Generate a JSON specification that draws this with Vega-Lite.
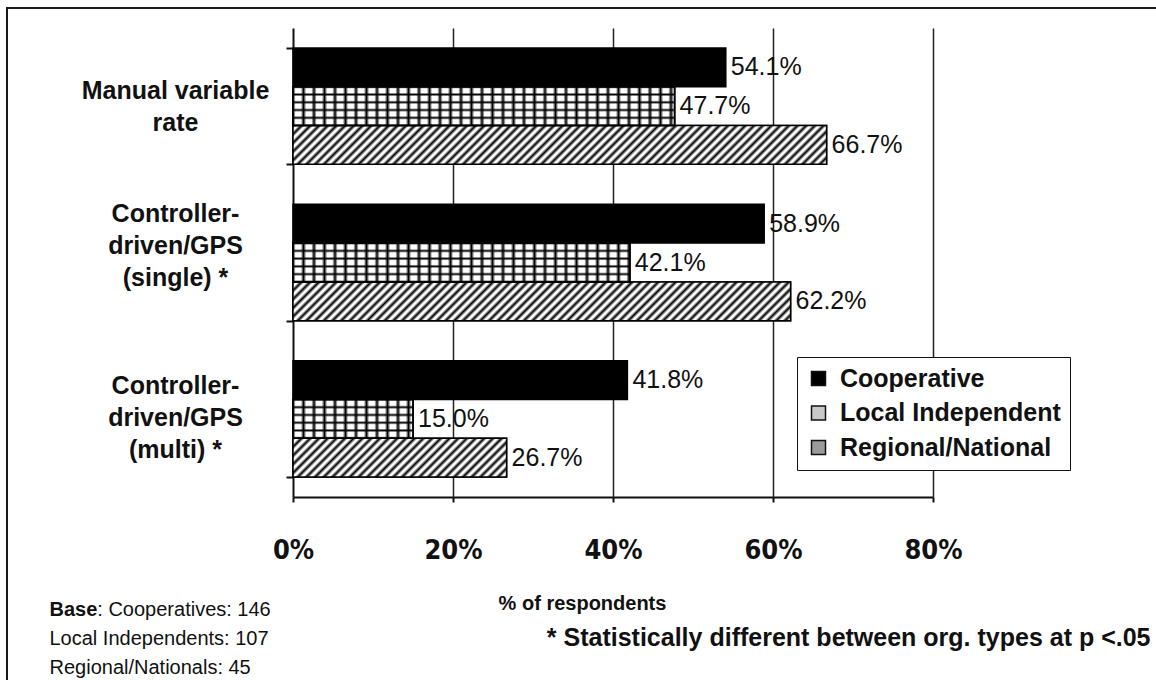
{
  "$schema": "https://vega.github.io/schema/vega-lite/v6.json",
  "width": 1151,
  "height": 676,
  "autosize": {"type": "none"},
  "padding": {"left": 7, "top": 8, "right": -2, "bottom": -4},
  "background": "white",
  "config": {
    "view": {"stroke": "#1a1a1a", "strokeWidth": 2},
    "font": "Liberation Sans",
    "axis": {"titleColor": "#111", "labelColor": "#111", "titleFont": "Liberation Sans", "labelFont": "Liberation Sans"}
  },
  "params": [
    {"name": "dg", "value": [
      {"offset":0,"color":"#000"},{"offset":0.006,"color":"#fff"},{"offset":0.009,"color":"#fff"},
      {"offset":0.015,"color":"#000"},{"offset":0.021,"color":"#fff"},{"offset":0.024,"color":"#fff"},
      {"offset":0.03,"color":"#000"},{"offset":0.036,"color":"#fff"},{"offset":0.039,"color":"#fff"},
      {"offset":0.045,"color":"#000"},{"offset":0.051,"color":"#fff"},{"offset":0.054,"color":"#fff"},
      {"offset":0.06,"color":"#000"},{"offset":0.066,"color":"#fff"},{"offset":0.069,"color":"#fff"},
      {"offset":0.075,"color":"#000"},{"offset":0.081,"color":"#fff"},{"offset":0.084,"color":"#fff"},
      {"offset":0.09,"color":"#000"},{"offset":0.096,"color":"#fff"},{"offset":0.099,"color":"#fff"},
      {"offset":0.105,"color":"#000"},{"offset":0.111,"color":"#fff"},{"offset":0.114,"color":"#fff"},
      {"offset":0.12,"color":"#000"},{"offset":0.126,"color":"#fff"},{"offset":0.129,"color":"#fff"},
      {"offset":0.135,"color":"#000"},{"offset":0.141,"color":"#fff"},{"offset":0.144,"color":"#fff"},
      {"offset":0.15,"color":"#000"},{"offset":0.156,"color":"#fff"},{"offset":0.159,"color":"#fff"},
      {"offset":0.165,"color":"#000"},{"offset":0.171,"color":"#fff"},{"offset":0.174,"color":"#fff"},
      {"offset":0.18,"color":"#000"},{"offset":0.186,"color":"#fff"},{"offset":0.189,"color":"#fff"},
      {"offset":0.195,"color":"#000"},{"offset":0.201,"color":"#fff"},{"offset":0.204,"color":"#fff"},
      {"offset":0.21,"color":"#000"},{"offset":0.216,"color":"#fff"},{"offset":0.219,"color":"#fff"},
      {"offset":0.225,"color":"#000"},{"offset":0.231,"color":"#fff"},{"offset":0.234,"color":"#fff"},
      {"offset":0.24,"color":"#000"},{"offset":0.246,"color":"#fff"},{"offset":0.249,"color":"#fff"},
      {"offset":0.255,"color":"#000"},{"offset":0.261,"color":"#fff"},{"offset":0.264,"color":"#fff"},
      {"offset":0.27,"color":"#000"},{"offset":0.276,"color":"#fff"},{"offset":0.279,"color":"#fff"},
      {"offset":0.285,"color":"#000"},{"offset":0.291,"color":"#fff"},{"offset":0.294,"color":"#fff"},
      {"offset":0.3,"color":"#000"},{"offset":0.306,"color":"#fff"},{"offset":0.309,"color":"#fff"},
      {"offset":0.315,"color":"#000"},{"offset":0.321,"color":"#fff"},{"offset":0.324,"color":"#fff"},
      {"offset":0.33,"color":"#000"},{"offset":0.336,"color":"#fff"},{"offset":0.339,"color":"#fff"},
      {"offset":0.345,"color":"#000"},{"offset":0.351,"color":"#fff"},{"offset":0.354,"color":"#fff"},
      {"offset":0.36,"color":"#000"},{"offset":0.366,"color":"#fff"},{"offset":0.369,"color":"#fff"},
      {"offset":0.375,"color":"#000"},{"offset":0.381,"color":"#fff"},{"offset":0.384,"color":"#fff"},
      {"offset":0.39,"color":"#000"},{"offset":0.396,"color":"#fff"},{"offset":0.399,"color":"#fff"},
      {"offset":0.405,"color":"#000"},{"offset":0.411,"color":"#fff"},{"offset":0.414,"color":"#fff"},
      {"offset":0.42,"color":"#000"},{"offset":0.426,"color":"#fff"},{"offset":0.429,"color":"#fff"},
      {"offset":0.435,"color":"#000"},{"offset":0.441,"color":"#fff"},{"offset":0.444,"color":"#fff"},
      {"offset":0.45,"color":"#000"},{"offset":0.456,"color":"#fff"},{"offset":0.459,"color":"#fff"},
      {"offset":0.465,"color":"#000"},{"offset":0.471,"color":"#fff"},{"offset":0.474,"color":"#fff"},
      {"offset":0.48,"color":"#000"},{"offset":0.486,"color":"#fff"},{"offset":0.489,"color":"#fff"},
      {"offset":0.495,"color":"#000"},{"offset":0.501,"color":"#fff"},{"offset":0.504,"color":"#fff"},
      {"offset":0.51,"color":"#000"},{"offset":0.516,"color":"#fff"},{"offset":0.519,"color":"#fff"},
      {"offset":0.525,"color":"#000"},{"offset":0.531,"color":"#fff"},{"offset":0.534,"color":"#fff"},
      {"offset":0.54,"color":"#000"},{"offset":0.546,"color":"#fff"},{"offset":0.549,"color":"#fff"},
      {"offset":0.555,"color":"#000"},{"offset":0.561,"color":"#fff"},{"offset":0.564,"color":"#fff"},
      {"offset":0.57,"color":"#000"},{"offset":0.576,"color":"#fff"},{"offset":0.579,"color":"#fff"},
      {"offset":0.585,"color":"#000"},{"offset":0.591,"color":"#fff"},{"offset":0.594,"color":"#fff"},
      {"offset":0.6,"color":"#000"},{"offset":0.606,"color":"#fff"},{"offset":0.609,"color":"#fff"},
      {"offset":0.615,"color":"#000"},{"offset":0.621,"color":"#fff"},{"offset":0.624,"color":"#fff"},
      {"offset":0.63,"color":"#000"},{"offset":0.636,"color":"#fff"},{"offset":0.639,"color":"#fff"},
      {"offset":0.645,"color":"#000"},{"offset":0.651,"color":"#fff"},{"offset":0.654,"color":"#fff"},
      {"offset":0.66,"color":"#000"},{"offset":0.666,"color":"#fff"},{"offset":0.669,"color":"#fff"},
      {"offset":0.675,"color":"#000"},{"offset":0.681,"color":"#fff"},{"offset":0.684,"color":"#fff"},
      {"offset":0.69,"color":"#000"},{"offset":0.696,"color":"#fff"},{"offset":0.699,"color":"#fff"},
      {"offset":0.705,"color":"#000"},{"offset":0.711,"color":"#fff"},{"offset":0.714,"color":"#fff"},
      {"offset":0.72,"color":"#000"},{"offset":0.726,"color":"#fff"},{"offset":0.729,"color":"#fff"},
      {"offset":0.735,"color":"#000"},{"offset":0.741,"color":"#fff"},{"offset":0.744,"color":"#fff"},
      {"offset":0.75,"color":"#000"},{"offset":0.756,"color":"#fff"},{"offset":0.759,"color":"#fff"},
      {"offset":0.765,"color":"#000"},{"offset":0.771,"color":"#fff"},{"offset":0.774,"color":"#fff"},
      {"offset":0.78,"color":"#000"},{"offset":0.786,"color":"#fff"},{"offset":0.789,"color":"#fff"},
      {"offset":0.795,"color":"#000"},{"offset":0.801,"color":"#fff"},{"offset":0.804,"color":"#fff"},
      {"offset":0.81,"color":"#000"},{"offset":0.816,"color":"#fff"},{"offset":0.819,"color":"#fff"},
      {"offset":0.825,"color":"#000"},{"offset":0.831,"color":"#fff"},{"offset":0.834,"color":"#fff"},
      {"offset":0.84,"color":"#000"},{"offset":0.846,"color":"#fff"},{"offset":0.849,"color":"#fff"},
      {"offset":0.855,"color":"#000"},{"offset":0.861,"color":"#fff"},{"offset":0.864,"color":"#fff"},
      {"offset":0.87,"color":"#000"},{"offset":0.876,"color":"#fff"},{"offset":0.879,"color":"#fff"},
      {"offset":0.885,"color":"#000"},{"offset":0.891,"color":"#fff"},{"offset":0.894,"color":"#fff"},
      {"offset":0.9,"color":"#000"},{"offset":0.906,"color":"#fff"},{"offset":0.909,"color":"#fff"},
      {"offset":0.915,"color":"#000"},{"offset":0.921,"color":"#fff"},{"offset":0.924,"color":"#fff"},
      {"offset":0.93,"color":"#000"},{"offset":0.936,"color":"#fff"},{"offset":0.939,"color":"#fff"},
      {"offset":0.945,"color":"#000"},{"offset":0.951,"color":"#fff"},{"offset":0.954,"color":"#fff"},
      {"offset":0.96,"color":"#000"},{"offset":0.966,"color":"#fff"},{"offset":0.969,"color":"#fff"},
      {"offset":0.975,"color":"#000"},{"offset":0.981,"color":"#fff"},{"offset":0.984,"color":"#fff"},
      {"offset":0.99,"color":"#000"},{"offset":0.996,"color":"#fff"},{"offset":0.999,"color":"#fff"}
    ]},
    {"name": "vl", "value": [
      {"offset":0,"color":"#000"},{"offset":0.005,"color":"#fff"},{"offset":0.015,"color":"#fff"},
      {"offset":0.02,"color":"#000"},{"offset":0.025,"color":"#fff"},{"offset":0.035,"color":"#fff"},
      {"offset":0.04,"color":"#000"},{"offset":0.045,"color":"#fff"},{"offset":0.055,"color":"#fff"},
      {"offset":0.06,"color":"#000"},{"offset":0.065,"color":"#fff"},{"offset":0.075,"color":"#fff"},
      {"offset":0.08,"color":"#000"},{"offset":0.085,"color":"#fff"},{"offset":0.095,"color":"#fff"},
      {"offset":0.1,"color":"#000"},{"offset":0.105,"color":"#fff"},{"offset":0.115,"color":"#fff"},
      {"offset":0.12,"color":"#000"},{"offset":0.125,"color":"#fff"},{"offset":0.135,"color":"#fff"},
      {"offset":0.14,"color":"#000"},{"offset":0.145,"color":"#fff"},{"offset":0.155,"color":"#fff"},
      {"offset":0.16,"color":"#000"},{"offset":0.165,"color":"#fff"},{"offset":0.175,"color":"#fff"},
      {"offset":0.18,"color":"#000"},{"offset":0.185,"color":"#fff"},{"offset":0.195,"color":"#fff"},
      {"offset":0.2,"color":"#000"},{"offset":0.205,"color":"#fff"},{"offset":0.215,"color":"#fff"},
      {"offset":0.22,"color":"#000"},{"offset":0.225,"color":"#fff"},{"offset":0.235,"color":"#fff"},
      {"offset":0.24,"color":"#000"},{"offset":0.245,"color":"#fff"},{"offset":0.255,"color":"#fff"},
      {"offset":0.26,"color":"#000"},{"offset":0.265,"color":"#fff"},{"offset":0.275,"color":"#fff"},
      {"offset":0.28,"color":"#000"},{"offset":0.285,"color":"#fff"},{"offset":0.295,"color":"#fff"},
      {"offset":0.3,"color":"#000"},{"offset":0.305,"color":"#fff"},{"offset":0.315,"color":"#fff"},
      {"offset":0.32,"color":"#000"},{"offset":0.325,"color":"#fff"},{"offset":0.335,"color":"#fff"},
      {"offset":0.34,"color":"#000"},{"offset":0.345,"color":"#fff"},{"offset":0.355,"color":"#fff"},
      {"offset":0.36,"color":"#000"},{"offset":0.365,"color":"#fff"},{"offset":0.375,"color":"#fff"},
      {"offset":0.38,"color":"#000"},{"offset":0.385,"color":"#fff"},{"offset":0.395,"color":"#fff"},
      {"offset":0.4,"color":"#000"},{"offset":0.405,"color":"#fff"},{"offset":0.415,"color":"#fff"},
      {"offset":0.42,"color":"#000"},{"offset":0.425,"color":"#fff"},{"offset":0.435,"color":"#fff"},
      {"offset":0.44,"color":"#000"},{"offset":0.445,"color":"#fff"},{"offset":0.455,"color":"#fff"},
      {"offset":0.46,"color":"#000"},{"offset":0.465,"color":"#fff"},{"offset":0.475,"color":"#fff"},
      {"offset":0.48,"color":"#000"},{"offset":0.485,"color":"#fff"},{"offset":0.495,"color":"#fff"},
      {"offset":0.5,"color":"#000"},{"offset":0.505,"color":"#fff"},{"offset":0.515,"color":"#fff"},
      {"offset":0.52,"color":"#000"},{"offset":0.525,"color":"#fff"},{"offset":0.535,"color":"#fff"},
      {"offset":0.54,"color":"#000"},{"offset":0.545,"color":"#fff"},{"offset":0.555,"color":"#fff"},
      {"offset":0.56,"color":"#000"},{"offset":0.565,"color":"#fff"},{"offset":0.575,"color":"#fff"},
      {"offset":0.58,"color":"#000"},{"offset":0.585,"color":"#fff"},{"offset":0.595,"color":"#fff"},
      {"offset":0.6,"color":"#000"},{"offset":0.605,"color":"#fff"},{"offset":0.615,"color":"#fff"},
      {"offset":0.62,"color":"#000"},{"offset":0.625,"color":"#fff"},{"offset":0.635,"color":"#fff"},
      {"offset":0.64,"color":"#000"},{"offset":0.645,"color":"#fff"},{"offset":0.655,"color":"#fff"},
      {"offset":0.66,"color":"#000"},{"offset":0.665,"color":"#fff"},{"offset":0.675,"color":"#fff"},
      {"offset":0.68,"color":"#000"},{"offset":0.685,"color":"#fff"},{"offset":0.695,"color":"#fff"},
      {"offset":0.7,"color":"#000"},{"offset":0.705,"color":"#fff"},{"offset":0.715,"color":"#fff"},
      {"offset":0.72,"color":"#000"},{"offset":0.725,"color":"#fff"},{"offset":0.735,"color":"#fff"}
    ]},
    {"name": "hl", "value": [
      {"offset":0,"color":"#000"},{"offset":0.05,"color":"rgba(0,0,0,0)"},{"offset":0.15,"color":"rgba(0,0,0,0)"},
      {"offset":0.2,"color":"#000"},{"offset":0.25,"color":"rgba(0,0,0,0)"},{"offset":0.35,"color":"rgba(0,0,0,0)"},
      {"offset":0.4,"color":"#000"},{"offset":0.45,"color":"rgba(0,0,0,0)"},{"offset":0.55,"color":"rgba(0,0,0,0)"},
      {"offset":0.6,"color":"#000"},{"offset":0.65,"color":"rgba(0,0,0,0)"},{"offset":0.75,"color":"rgba(0,0,0,0)"},
      {"offset":0.8,"color":"#000"},{"offset":0.85,"color":"rgba(0,0,0,0)"},{"offset":0.95,"color":"rgba(0,0,0,0)"},
      {"offset":1,"color":"#000"}
    ]}
  ],
  "data": {"values": [
    {"category": "Manual variable rate", "type": "Cooperative", "v": 0.541},
    {"category": "Manual variable rate", "type": "Local Independent", "v": 0.477},
    {"category": "Manual variable rate", "type": "Regional/National", "v": 0.667},
    {"category": "Controller-driven/GPS (single) *", "type": "Cooperative", "v": 0.589},
    {"category": "Controller-driven/GPS (single) *", "type": "Local Independent", "v": 0.421},
    {"category": "Controller-driven/GPS (single) *", "type": "Regional/National", "v": 0.622},
    {"category": "Controller-driven/GPS (multi) *", "type": "Cooperative", "v": 0.418},
    {"category": "Controller-driven/GPS (multi) *", "type": "Local Independent", "v": 0.15},
    {"category": "Controller-driven/GPS (multi) *", "type": "Regional/National", "v": 0.267}
  ]},
  "resolve": {"axis": {"x": "independent", "y": "independent"}},
  "layer": [
    {
      "mark": {"type": "bar", "stroke": "#000", "strokeWidth": 1.5},
      "encoding": {
        "y": {
          "field": "category", "type": "nominal",
          "scale": {"domain": ["Manual variable rate", "Controller-driven/GPS (single) *", "Controller-driven/GPS (multi) *"], "range": [20, 489], "paddingInner": 0.256, "paddingOuter": 0.128},
          "axis": {
            "orient": "left", "offset": -286,
            "labelExpr": "datum.label == 'Manual variable rate' ? ['Manual variable', 'rate'] : datum.label == 'Controller-driven/GPS (single) *' ? ['Controller-', 'driven/GPS', '(single) *'] : datum.label == 'Controller-driven/GPS (multi) *' ? ['Controller-', 'driven/GPS', '(multi) *'] : ''",
            "labelFontSize": 25, "labelFontWeight": "bold", "labelLineHeight": 32, "labelAlign": "center", "labelBaseline": "middle", "labelPadding": 111, "labelLimit": 0,
            "labelOffset": {"condition": [{"test": "datum.value == 'Manual variable rate'", "value": -16}, {"test": "datum.value == 'Controller-driven/GPS (single) *'", "value": -49}], "value": -33},
            "tickBand": "extent", "tickSize": 7, "tickWidth": 2, "tickColor": "#111", "domainColor": "#111", "domainWidth": 2, "grid": false,
            "title": ["Local Independents: 107", "Regional/Nationals: 45"],
            "titleX": -244, "titleY": 636, "titleAngle": 0, "titleAlign": "left", "titleBaseline": "alphabetic", "titleFontWeight": "normal", "titleFontSize": 20, "titleLineHeight": 29
          }
        },
        "yOffset": {"field": "type", "type": "nominal", "scale": {"domain": ["Cooperative", "Local Independent", "Regional/National"], "paddingInner": 0, "paddingOuter": 0}},
        "x": {
          "field": "v", "type": "quantitative",
          "scale": {"domain": [0, 0.8], "range": [286, 926], "nice": false, "zero": true},
          "axis": {
            "orient": "bottom", "offset": -187, "values": [0, 0.2, 0.4, 0.6, 0.8], "format": "%",
            "labelFont": "DejaVu Sans Condensed, Liberation Sans", "labelFontWeight": "bold", "labelFontSize": 27, "labelBaseline": "middle", "labelPadding": 48, "labelFlush": false, "labelOverlap": false, "labelAngle": 0,
            "tickSize": 5, "tickWidth": 2, "tickColor": "#111", "domainColor": "#111", "domainWidth": 2,
            "grid": false,
            "title": "% of respondents", "titleX": 575, "titleY": 106, "titleAlign": "center", "titleBaseline": "middle", "titleFontSize": 20, "titleFontWeight": "bold"
          }
        },
        "color": {
          "field": "type", "type": "nominal",
          "scale": {"domain": ["Cooperative", "Local Independent", "Regional/National"], "range": ["#000000", "#c8c8c8", "#9a9a9a"]},
          "legend": {
            "orient": "none", "legendX": 790, "legendY": 349, "title": null, "padding": 9,
            "fillColor": "#ffffff", "strokeColor": "#111",
            "symbolType": "square", "symbolSize": 196, "symbolStrokeColor": "#111", "symbolStrokeWidth": 1.5,
            "labelFont": "Liberation Sans", "labelFontWeight": "bold", "labelFontSize": 25, "labelColor": "#111", "labelOffset": 9, "labelLimit": 0, "rowPadding": 8.5
          }
        }
      }
    },
    {
      "transform": [{"filter": "datum.type == 'Regional/National'"}],
      "mark": {"type": "bar", "stroke": "#000", "strokeWidth": 1.5,
        "fill": {"expr": "{gradient: 'linear', x1: 0, y1: 0, x2: 464000 * datum.v / (640000 * datum.v * datum.v + 1503), y2: 22487 / (640000 * datum.v * datum.v + 1503), stops: dg}"}},
      "encoding": {
        "y": {"field": "category", "type": "nominal",
          "axis": {"orient": "left", "labels": false, "ticks": false, "domain": false, "grid": false,
            "title": ": Cooperatives: 146", "titleX": 89.8, "titleY": 607, "titleAngle": 0, "titleAlign": "left", "titleBaseline": "alphabetic", "titleFontWeight": "normal", "titleFontSize": 20}},
        "yOffset": {"field": "type", "type": "nominal"},
        "x": {"field": "v", "type": "quantitative",
          "axis": {"orient": "bottom", "offset": -187, "labels": false, "ticks": false, "domain": false, "grid": false,
            "title": "Base", "titleX": 42, "titleY": 118, "titleAlign": "left", "titleBaseline": "alphabetic", "titleFontWeight": "bold", "titleFontSize": 20}}
      }
    },
    {
      "transform": [{"filter": "datum.type == 'Local Independent'"}],
      "mark": {"type": "bar", "stroke": "#000", "strokeWidth": 1.5,
        "fill": {"expr": "{gradient: 'linear', x1: 0, y1: 0, x2: 525 / (800 * datum.v), y2: 0, stops: vl}"}},
      "encoding": {
        "y": {"field": "category", "type": "nominal", "axis": null},
        "yOffset": {"field": "type", "type": "nominal"},
        "x": {"field": "v", "type": "quantitative",
          "axis": {"orient": "bottom", "offset": -187, "labels": false, "ticks": false, "domain": false, "grid": false,
            "title": "* Statistically different between org. types at p <.05", "titleX": 1143, "titleY": 148, "titleAlign": "right", "titleBaseline": "alphabetic", "titleFontWeight": "bold", "titleFontSize": 25}}
      }
    },
    {
      "transform": [{"filter": "datum.type == 'Local Independent'"}],
      "mark": {"type": "bar", "stroke": "#000", "strokeWidth": 1.5,
        "fill": {"expr": "{gradient: 'linear', x1: 0, y1: 0, x2: 0, y2: 1, stops: hl}"}},
      "encoding": {
        "y": {"field": "category", "type": "nominal", "axis": null},
        "yOffset": {"field": "type", "type": "nominal"},
        "x": {"field": "v", "type": "quantitative",
          "axis": {"orient": "top", "offset": -489, "values": [0.2, 0.4, 0.6, 0.8], "labels": false, "domain": false, "grid": false,
            "ticks": true, "tickSize": 469, "tickWidth": 1.5, "tickColor": "#222", "title": null}}
      }
    },
    {
      "mark": {"type": "text", "align": "left", "baseline": "middle", "dx": 5, "fontSize": 25, "font": "Liberation Sans", "color": "#111"},
      "encoding": {
        "y": {"field": "category", "type": "nominal", "axis": null},
        "yOffset": {"field": "type", "type": "nominal"},
        "x": {"field": "v", "type": "quantitative", "axis": null},
        "text": {"field": "v", "type": "quantitative", "format": ".1%"}
      }
    }
  ]
}
